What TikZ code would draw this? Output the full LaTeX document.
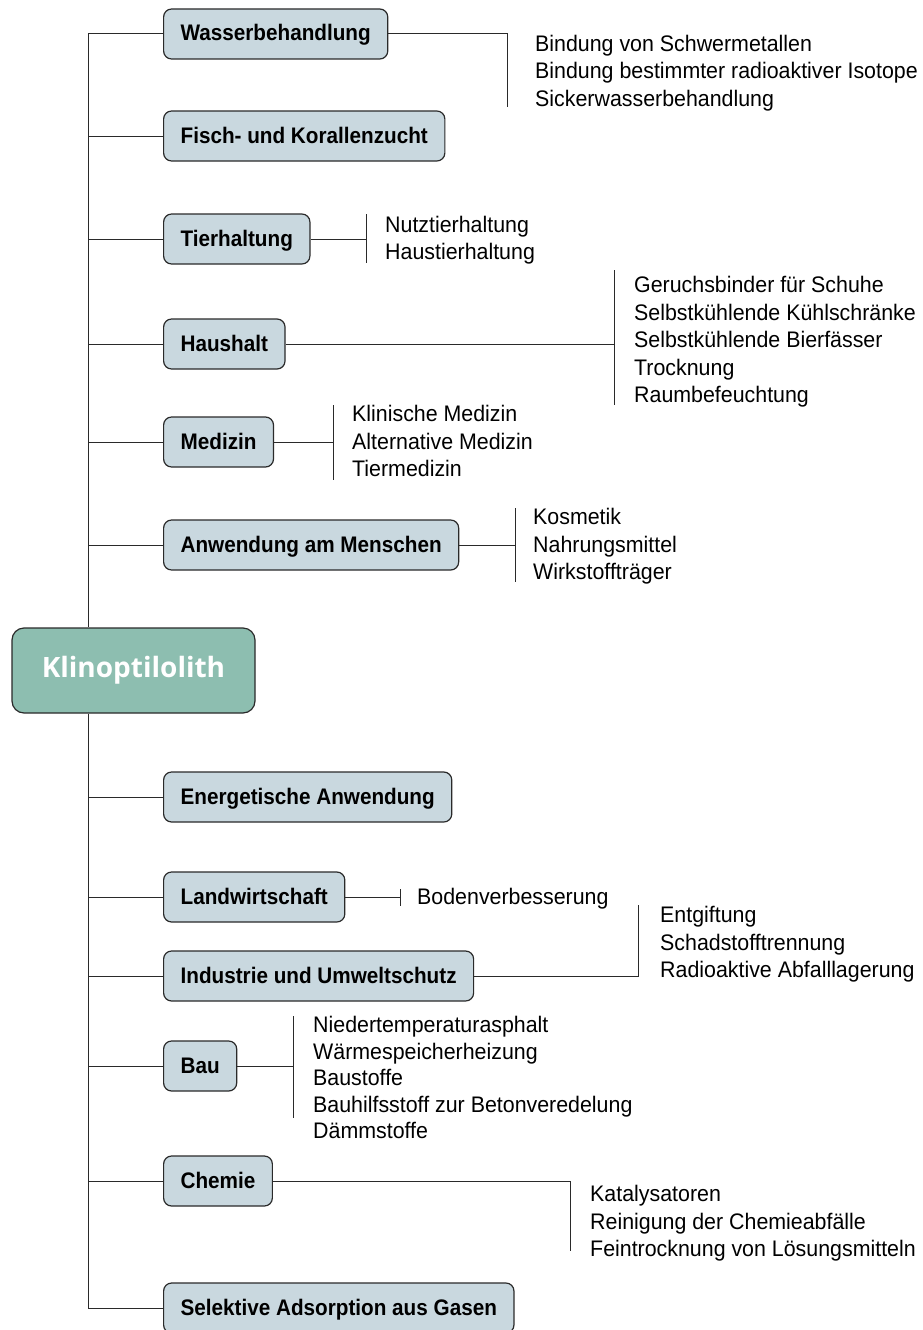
\documentclass[tikz,border=0pt]{standalone}
\usepackage{fontspec}
\setmainfont{Liberation Sans}
\newfontfamily\condfont[FakeStretch=0.95]{Liberation Sans}
\newfontfamily\condbold[FakeStretch=0.92]{Liberation Sans Bold}
\newfontfamily\klinofont{Open Sans}
\usetikzlibrary{calc}
\definecolor{boxfill}{HTML}{C9D8DF}
\definecolor{klinofill}{HTML}{8DBEB0}
\definecolor{lineclr}{HTML}{2A2A2A}
\begin{document}
\begin{tikzpicture}[x=1pt,y=-1pt,
  branch/.style={draw=lineclr, line width=1.2pt, fill=boxfill, rounded corners=8pt,
    anchor=west, minimum height=50pt, inner xsep=17pt, inner ysep=0pt,
    text height=16pt, text depth=2pt,
    font=\condbold\fontsize{22.5}{24}\selectfont},
  items/.style={anchor=base west, align=left, inner sep=0pt,
    font=\condfont\fontsize{22.5}{27.5}\selectfont},
  conn/.style={draw=lineclr, line width=1pt}]
\useasboundingbox (0,0) rectangle (922,1330);
\clip (0,0) rectangle (922,1330);

% central node
\node[draw=lineclr, line width=1.2pt, fill=klinofill, rounded corners=12pt,
  minimum width=243pt, minimum height=85pt, inner sep=0pt,
  font=\klinofont\bfseries\fontsize{28}{32}\selectfont, text=white] (klino) at (133.5,670.5) {Klinoptilolith};

% trunk
\coordinate (ttop) at (88,34);
\coordinate (tbot) at (88,1308);

% branches
\node[branch] (wasser) at (163,34) {Wasserbehandlung};
\node[branch] (fisch) at (163,136) {Fisch- und Korallenzucht};
\node[branch] (tier) at (163,239) {Tierhaltung};
\node[branch] (haus) at (163,344) {Haushalt};
\node[branch] (medizin) at (163,442) {Medizin};
\node[branch] (anwend) at (163,545) {Anwendung am Menschen};
\node[branch] (energie) at (163,797) {Energetische Anwendung};
\node[branch] (land) at (163,897) {Landwirtschaft};
\node[branch] (industrie) at (163,976) {Industrie und Umweltschutz};
\node[branch] (bau) at (163,1066) {Bau};
\node[branch] (chemie) at (163,1181) {Chemie};
\node[branch] (selektiv) at (163,1308) {Selektive Adsorption aus Gasen};

% trunk lines
\draw[conn] (wasser.west) -- (ttop) -- (ttop |- klino.north);
\draw[conn] (ttop |- klino.south) -- (tbot) -- (selektiv.west);
\foreach \n in {fisch,tier,haus,medizin,anwend,energie,land,industrie,bau,chemie}
  \draw[conn] (\n.west) -- (\n.west -| ttop);

% item lists (anchor = baseline of the last line)
\node[items] (wasserL) at (535,106.5) {Bindung von Schwermetallen\\Bindung bestimmter radioaktiver Isotope\\Sickerwasserbehandlung};
\node[items] (tierL) at (385,259.5) {Nutztierhaltung\\Haustierhaltung};
\node[items] (hausL) at (634,402.5) {Geruchsbinder für Schuhe\\Selbstkühlende Kühlschränke\\Selbstkühlende Bierfässer\\Trocknung\\Raumbefeuchtung};
\node[items] (medizinL) at (352,476.5) {Klinische Medizin\\Alternative Medizin\\Tiermedizin};
\node[items] (anwendL) at (533,579.5) {Kosmetik\\Nahrungsmittel\\Wirkstoffträger};
\node[items] (landL) at (417,904.5) {Bodenverbesserung};
\node[items] (industrieL) at (660,977.5) {Entgiftung\\Schadstofftrennung\\Radioaktive Abfalllagerung};
\node[items, font=\condfont\fontsize{22.5}{26.5}\selectfont] (bauL) at (313,1138.5) {Niedertemperaturasphalt\\Wärmespeicherheizung\\Baustoffe\\Bauhilfsstoff zur Betonveredelung\\Dämmstoffe};
\node[items] (chemieL) at (590,1256.5) {Katalysatoren\\Reinigung der Chemieabfälle\\Feintrocknung von Lösungsmitteln};

% brackets
\coordinate (wB1) at (507,34);  \coordinate (wB2) at (507,107);
\draw[conn] (wasser.east) -- (wB1) -- (wB2);
\coordinate (tB1) at (366,214); \coordinate (tB2) at (366,263); \coordinate (tBm) at (366,239);
\draw[conn] (tier.east) -- (tBm); \draw[conn] (tB1) -- (tB2);
\coordinate (hB1) at (614,270); \coordinate (hB2) at (614,405); \coordinate (hBm) at (614,344);
\draw[conn] (haus.east) -- (hBm); \draw[conn] (hB1) -- (hB2);
\coordinate (mB1) at (333,405); \coordinate (mB2) at (333,480); \coordinate (mBm) at (333,442);
\draw[conn] (medizin.east) -- (mBm); \draw[conn] (mB1) -- (mB2);
\coordinate (aB1) at (515,508); \coordinate (aB2) at (515,582); \coordinate (aBm) at (515,545);
\draw[conn] (anwend.east) -- (aBm); \draw[conn] (aB1) -- (aB2);
\coordinate (lB1) at (400,889); \coordinate (lB2) at (400,906); \coordinate (lBm) at (400,897);
\draw[conn] (land.east) -- (lBm); \draw[conn] (lB1) -- (lB2);
\coordinate (iB1) at (638,905); \coordinate (iB2) at (638,976);
\draw[conn] (industrie.east) -- (iB2) -- (iB1);
\coordinate (bB1) at (293,1016); \coordinate (bB2) at (293,1118); \coordinate (bBm) at (293,1066);
\draw[conn] (bau.east) -- (bBm); \draw[conn] (bB1) -- (bB2);
\coordinate (cB1) at (570,1181); \coordinate (cB2) at (570,1251);
\draw[conn] (chemie.east) -- (cB1) -- (cB2);
\end{tikzpicture}
\end{document}
